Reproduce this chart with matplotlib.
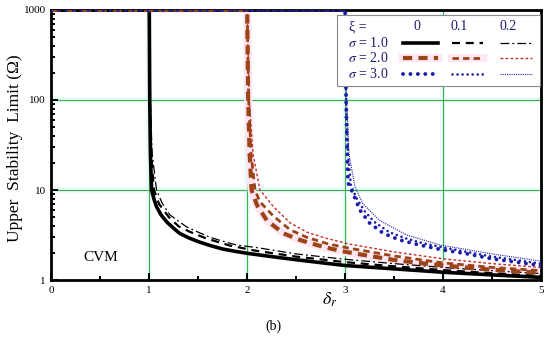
import numpy as np
import matplotlib
matplotlib.use("Agg")
import matplotlib.pyplot as plt
from matplotlib.patches import Rectangle
from matplotlib.ticker import FixedLocator, LogLocator, NullFormatter

plt.rcParams['font.family'] = ['Liberation Serif', 'DejaVu Serif']
plt.rcParams['mathtext.fontset'] = 'stix'

# ---- data (delta_r, upper stability limit) ----
s1_x0_d = [0, 1.0, 1.005, 1.012, 1.024, 1.05, 1.075, 1.12, 1.18, 1.25, 1.31, 1.4, 1.5,
           1.62, 1.75, 1.88, 2.0, 2.25, 2.5, 2.75, 3.0, 3.5, 4.0, 4.5, 5.0]
s1_x0_v = [1000, 1000, 100, 25, 10, 7.8, 6.5, 5.3, 4.4, 3.75, 3.3, 2.95, 2.67,
           2.42, 2.21, 2.08, 1.98, 1.82, 1.68, 1.56, 1.45, 1.33, 1.22, 1.14, 1.07]

s1_x1_d = [0, 1.0, 1.008, 1.02, 1.048, 1.1, 1.2, 1.3, 1.41, 1.58, 1.82, 2.07, 2.5,
           3.0, 3.5, 4.0, 4.5, 5.0]
s1_x1_v = [1000, 1000, 100, 25, 10, 7.0, 5.0, 3.95, 3.45, 2.9, 2.42, 2.13, 1.82,
           1.58, 1.42, 1.29, 1.19, 1.11]

s1_x2_d = [0, 1.0, 1.01, 1.03, 1.075, 1.13, 1.21, 1.3, 1.38, 1.5, 1.62, 1.75, 1.89,
           2.1, 2.5, 3.0, 3.5, 4.0, 4.5, 5.0]
s1_x2_v = [1000, 1000, 100, 25, 10, 7.2, 5.3, 4.5, 3.9, 3.4, 2.98, 2.7, 2.45,
           2.29, 1.95, 1.7, 1.52, 1.38, 1.27, 1.18]

s2_x0_d = [0, 2.0, 2.01, 2.025, 2.045, 2.1, 2.2, 2.37, 2.54, 2.71, 2.84, 3.0, 3.25,
           3.5, 3.75, 4.0, 4.5, 5.0]
s2_x0_v = [1000, 1000, 100, 25, 10, 6.8, 4.6, 3.3, 2.78, 2.45, 2.25, 2.06, 1.85,
           1.67, 1.55, 1.45, 1.3, 1.2]

s2_x1_d = [0, 2.0, 2.015, 2.04, 2.08, 2.13, 2.27, 2.44, 2.61, 2.81, 3.01, 3.5, 4.0,
           4.5, 5.0]
s2_x1_v = [1000, 1000, 100, 25, 10, 7.4, 5.1, 3.6, 2.98, 2.55, 2.29, 1.85, 1.55,
           1.38, 1.27]

s2_x2_d = [0, 2.0, 2.02, 2.06, 2.13, 2.27, 2.44, 2.61, 2.81, 3.05, 3.5, 4.0, 4.5, 5.0]
s2_x2_v = [1000, 1000, 100, 25, 10, 6.5, 4.3, 3.4, 2.9, 2.5, 2.05, 1.72, 1.52, 1.38]

s3_x0_d = [0, 3.0, 3.01, 3.02, 3.03, 3.08, 3.15, 3.25, 3.39, 3.56, 3.76, 3.97, 4.25,
           4.5, 4.75, 5.0]
s3_x0_v = [1000, 1000, 100, 30, 12, 9.2, 6.0, 4.3, 3.3, 2.78, 2.45, 2.19, 1.95,
           1.72, 1.58, 1.45]

s3_x1_d = [0, 3.0, 3.01, 3.03, 3.06, 3.12, 3.2, 3.3, 3.45, 3.62, 3.8, 4.0, 4.5, 5.0]
s3_x1_v = [1000, 1000, 100, 25, 11, 8.0, 5.8, 4.4, 3.4, 2.9, 2.55, 2.3, 1.82, 1.52]

s3_x2_d = [0, 3.0, 3.015, 3.04, 3.1, 3.18, 3.35, 3.63, 3.97, 4.5, 5.0]
s3_x2_v = [1000, 1000, 100, 25, 10.9, 7.1, 4.6, 3.16, 2.45, 1.95, 1.62]

xi_labels = ['0', '0.1', '0.2']
sigma_labels = ['1.0', '2.0', '3.0']
y_ticks = [1, 10, 100, 1000]
x_ticks = [0, 1, 2, 3, 4, 5]

black = '#000000'
brown = '#9a4418'
red = '#cc2a2a'
blue = '#1c1ca8'
navy = '#1a1a70'
green = '#3cb043'

# style of each curve: (color, linewidth, linestyle, capstyle)
styles = [
    [(black, 2.6, '-', 'butt'), (black, 1.6, (0, (3.6, 2.6)), 'butt'),
     (black, 0.9, (0, (7, 2.5, 1.5, 2.5)), 'butt')],
    [(brown, 3.0, (0, (2.2, 1.5)), 'butt'), (brown, 2.0, (0, (2.3, 1.5)), 'butt'),
     (red, 1.0, (0, (2.0, 1.6)), 'butt')],
    [(blue, 2.8, (0, (0.01, 1.9)), 'round'), (blue, 1.9, (0, (0.01, 1.9)), 'round'),
     (blue, 0.8, (0, (1.0, 1.0)), 'butt')],
]

curves = [
    [(s1_x0_d, s1_x0_v), (s1_x1_d, s1_x1_v), (s1_x2_d, s1_x2_v)],
    [(s2_x0_d, s2_x0_v), (s2_x1_d, s2_x1_v), (s2_x2_d, s2_x2_v)],
    [(s3_x0_d, s3_x0_v), (s3_x1_d, s3_x1_v), (s3_x2_d, s3_x2_v)],
]

fig = plt.figure(figsize=(5.5, 3.44), dpi=100)
ax = fig.add_axes([0.0933, 0.186, 0.8903, 0.785])
ax.set_yscale('log')
ax.set_xlim(0, 5)
ax.set_ylim(1, 1000)

# grille verte
for xv in x_ticks[1:-1]:
    ax.axvline(xv, color='#e8fbfd', lw=4, zorder=0)
    ax.axvline(xv, color=green, lw=0.8, zorder=1)
for yv in y_ticks[1:-1]:
    ax.axhline(yv, color='#e8fbfd', lw=4, zorder=0)
    ax.axhline(yv, color=green, lw=0.8, zorder=1)

# halo rose autour des courbes sigma = 2
ax.plot(s2_x0_d[1:], s2_x0_v[1:], color='#ffe6f3', lw=6, zorder=2,
        solid_capstyle='butt')

for i in range(3):
    for j in range(3):
        d, v = curves[i][j]
        c, lw, ls, cap = styles[i][j]
        ax.plot(d, v, color=c, lw=lw, linestyle=ls, dash_capstyle=cap,
                zorder=3 + (2 - j))

ax.text(0.5, 1.8, 'CVM', fontsize=11, ha='center', va='center')

# axes
ax.yaxis.set_major_locator(FixedLocator(y_ticks))
ax.set_yticklabels([str(t) for t in y_ticks])
ax.yaxis.set_minor_locator(LogLocator(base=10, subs=np.arange(2, 10)))
ax.yaxis.set_minor_formatter(NullFormatter())
ax.set_xticks(x_ticks)
ax.set_xticks(np.arange(0.5, 5, 1.0), minor=True)
ax.tick_params(which='both', direction='in', top=False, right=False,
               labelsize=8, width=1.4)
ax.tick_params(which='major', length=5, pad=4)
ax.tick_params(which='minor', length=3)
for sp in ax.spines.values():
    sp.set_linewidth(2)

fig.text(0.027, 0.57, 'Upper  Stability  Limit (\u03a9)', fontsize=12.5,
         rotation=90, ha='center', va='center')
fig.text(0.6, 0.128, r'$\delta_r$', fontsize=13, ha='center', va='center')
fig.text(0.498, 0.052, '(b)', fontsize=10, ha='center', va='center')

# legende en tableau
box = Rectangle((0.583, 0.719), 0.415, 0.262, transform=ax.transAxes,
                facecolor='white', edgecolor='#888888', lw=0.8, zorder=10)
ax.add_patch(box)
ax.text(0.626, 0.937, '\u03be =', transform=ax.transAxes, fontsize=10,
        color=navy, ha='center', va='center', zorder=11)
col_x = [0.747, 0.833, 0.933]
for k, lab in enumerate(xi_labels):
    ax.text(col_x[k], 0.937, lab, transform=ax.transAxes, fontsize=10,
            color=navy, ha='center', va='center', zorder=11)
row_y = [0.878, 0.822, 0.763]
seg_x = [(0.718, 0.790), (0.818, 0.882), (0.916, 0.981)]
for i, lab in enumerate(sigma_labels):
    ax.text(0.647, row_y[i], r'$\sigma$ = ' + lab, transform=ax.transAxes,
            fontsize=10, color=navy, ha='center', va='center', zorder=11)
    for j in range(3):
        c, lw, ls, cap = styles[i][j]
        if i == 1 and j < 2:
            ax.plot(seg_x[j], [row_y[i]] * 2, transform=ax.transAxes,
                    color='#ffe6f3', lw=6, zorder=11, clip_on=False)
        ax.plot(seg_x[j], [row_y[i]] * 2, transform=ax.transAxes, color=c,
                lw=lw, linestyle=ls, dash_capstyle=cap, zorder=12, clip_on=False)

fig.savefig('out.png', dpi=100)
